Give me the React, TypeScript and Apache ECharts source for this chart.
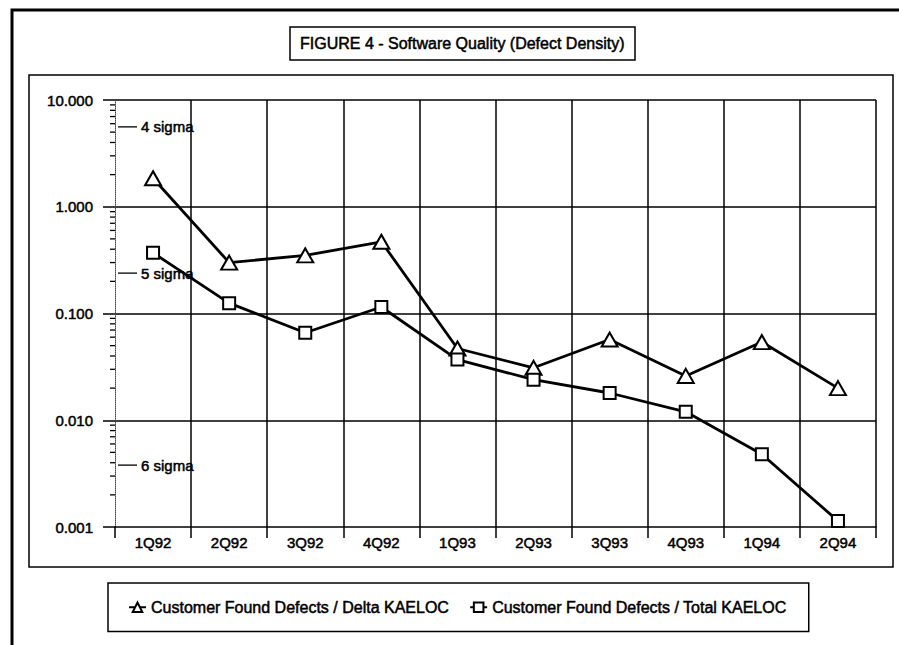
import { useEffect, useRef } from "react";
import * as echarts from "echarts";

// Quarters on the category axis
const quarters = ["1Q92", "2Q92", "3Q92", "4Q92", "1Q93", "2Q93", "3Q93", "4Q93", "1Q94", "2Q94"];

// Defect density per quarter
const deltaName = "Customer Found Defects / Delta KAELOC";
const deltaKaeloc = [1.85, 0.3, 0.35, 0.47, 0.047, 0.031, 0.057, 0.026, 0.054, 0.02];

const totalName = "Customer Found Defects / Total KAELOC";
const totalKaeloc = [0.37, 0.125, 0.066, 0.115, 0.037, 0.024, 0.018, 0.012, 0.0048, 0.00114];

// Sigma reference levels marked along the left axis
const sigmaLevels = [5.6, 0.239, 0.0038];
const sigmaLabels = ["4 sigma", "5 sigma", "6 sigma"];

// Log axis range and minor tick positions (2..9 within each decade)
const yMin = 0.001;
const yMax = 10;
const decadeStarts = [0.001, 0.01, 0.1, 1];
const minorMultipliers = [2, 3, 4, 5, 6, 7, 8, 9];

const FONT = "'Liberation Sans', Arial, Helvetica, sans-serif";
// a thin outline gives the heavier, printed look of the lettering
const heavy = { textBorderColor: "#000", textBorderWidth: 0.5 };

export default function App() {
  const ref = useRef<HTMLDivElement>(null);

  useEffect(() => {
    if (!ref.current) return;
    const chart = echarts.init(ref.current, undefined, { renderer: "svg" });

    const minorTickValues: number[] = [];
    decadeStarts.forEach((d) => minorMultipliers.forEach((m) => minorTickValues.push(m * d)));

    const option: any = {
      animation: false,
      backgroundColor: "#fff",
      title: {
        text: "FIGURE 4 - Software Quality (Defect Density)",
        left: 290,
        top: 27,
        padding: [8, 10, 8, 10],
        borderColor: "#000",
        borderWidth: 1.5,
        textStyle: {
          fontFamily: FONT,
          fontSize: 16,
          fontWeight: "normal",
          color: "#000",
          lineHeight: 17,
          ...heavy,
        },
      },
      legend: {
        data: [deltaName, totalName],
        left: 108,
        top: 583,
        padding: [16, 22, 16, 20],
        itemGap: 20,
        itemWidth: 17,
        itemHeight: 12,
        borderColor: "#000",
        borderWidth: 1.5,
        selectedMode: false,
        textStyle: { fontFamily: FONT, fontSize: 16, color: "#000", ...heavy },
      },
      graphic: [
        {
          type: "rect",
          z: -10,
          shape: { x: 12, y: 10, width: 1000, height: 800 },
          style: { fill: "none", stroke: "#000", lineWidth: 3 },
        },
        {
          type: "rect",
          z: -10,
          shape: { x: 29, y: 75, width: 864, height: 492 },
          style: { fill: "none", stroke: "#000", lineWidth: 1.5 },
        },
      ],
      grid: { left: 115, top: 100, right: 23, bottom: 118, containLabel: false },
      xAxis: {
        type: "category",
        data: quarters,
        boundaryGap: true,
        axisLine: { show: true, lineStyle: { color: "#000", width: 1.5 } },
        axisTick: { show: true, length: 11, lineStyle: { color: "#000", width: 1.5 } },
        axisLabel: { fontFamily: FONT, fontSize: 15, color: "#000", margin: 8, ...heavy },
        splitLine: { show: true, showMinLine: false, lineStyle: { color: "#000", width: 1.5 } },
      },
      yAxis: {
        type: "log",
        logBase: 10,
        min: yMin,
        max: yMax,
        splitNumber: 4,
        axisLine: { show: true, lineStyle: { color: "#444", width: 1, type: "dotted" } },
        axisTick: { show: true, length: 12, lineStyle: { color: "#000", width: 1.5 } },
        axisLabel: {
          fontFamily: FONT,
          fontSize: 15,
          color: "#000",
          margin: 22,
          ...heavy,
          formatter: (v: number) => v.toFixed(3),
        },
        splitLine: { show: true, showMinLine: false, lineStyle: { color: "#000", width: 1.5 } },
      },
      series: [
        {
          name: deltaName,
          type: "line",
          data: deltaKaeloc,
          symbol: "triangle",
          symbolSize: [16, 14],
          z: 5,
          lineStyle: { color: "#000", width: 2.8 },
          itemStyle: { color: "#fff", borderColor: "#000", borderWidth: 2 },
        },
        {
          name: totalName,
          type: "line",
          data: totalKaeloc,
          symbol: "rect",
          symbolSize: 12,
          z: 5,
          lineStyle: { color: "#000", width: 2.8 },
          itemStyle: { color: "#fff", borderColor: "#000", borderWidth: 2 },
        },
        {
          name: "minorTicks",
          type: "custom",
          silent: true,
          clip: false,
          data: minorTickValues.map((v) => [0, v]),
          encode: { x: 0, y: 1 },
          renderItem: (params: any, api: any) => {
            const y = api.coord([0, api.value(1)])[1];
            const x = params.coordSys.x;
            return {
              type: "line",
              shape: { x1: x - 5, y1: y, x2: x, y2: y },
              style: { stroke: "#000", lineWidth: 1.3 },
            };
          },
        },
        {
          name: "sigma",
          type: "custom",
          silent: true,
          clip: false,
          z: 3,
          data: sigmaLevels.map((v) => [0, v]),
          encode: { x: 0, y: 1 },
          renderItem: (params: any, api: any) => {
            const y = api.coord([0, api.value(1)])[1];
            const x = params.coordSys.x;
            return {
              type: "group",
              children: [
                {
                  type: "line",
                  shape: { x1: x + 3, y1: y, x2: x + 22, y2: y },
                  style: { stroke: "#000", lineWidth: 1.3 },
                },
                {
                  type: "text",
                  x: x + 26,
                  y: y,
                  style: {
                    text: sigmaLabels[params.dataIndex],
                    fill: "#000",
                    stroke: "#000",
                    lineWidth: 0.5,
                    fontFamily: FONT,
                    fontSize: 15,
                    verticalAlign: "middle",
                    align: "left",
                  },
                },
              ],
            };
          },
        },
      ],
    };

    chart.setOption(option);
    return () => chart.dispose();
  }, []);

  return (
    <div
      ref={ref}
      style={{ position: "fixed", left: 0, top: 0, width: 899, height: 645, background: "#fff" }}
    />
  );
}
